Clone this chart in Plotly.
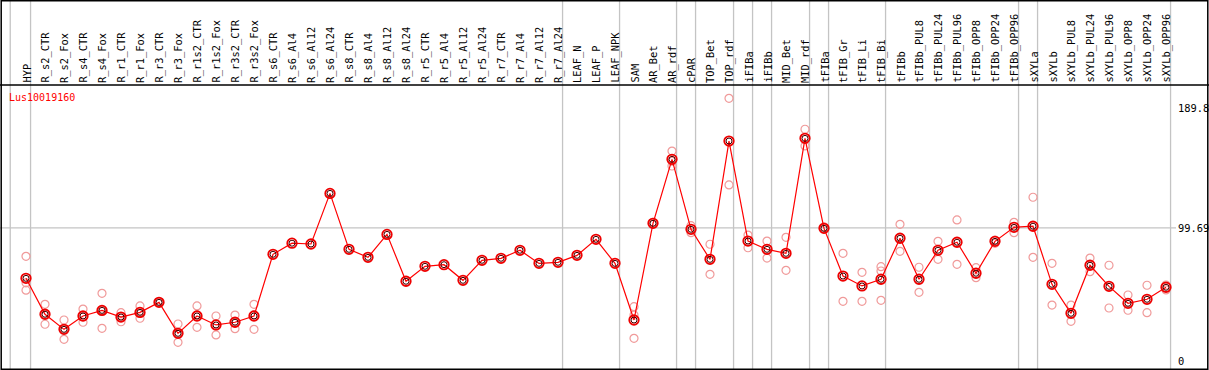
import plotly.graph_objects as go

categories = ["HYP", "R_s2_CTR", "R_s2_Fox", "R_s4_CTR", "R_s4_Fox", "R_r1_CTR", "R_r1_Fox",
              "R_r3_CTR", "R_r3_Fox", "R_r1s2_CTR", "R_r1s2_Fox", "R_r3s2_CTR", "R_r3s2_Fox",
              "R_s6_CTR", "R_s6_Al4", "R_s6_Al12", "R_s6_Al24", "R_s8_CTR", "R_s8_Al4", "R_s8_Al12",
              "R_s8_Al24", "R_r5_CTR", "R_r5_Al4", "R_r5_Al12", "R_r5_Al24", "R_r7_CTR", "R_r7_Al4",
              "R_r7_Al12", "R_r7_Al24", "LEAF_N", "LEAF_P", "LEAF_NPK", "SAM", "AR_Bet", "AR_rdf",
              "cPAR", "TOP_Bet", "TOP_rdf", "iFIBa", "iFIBb", "MID_Bet", "MID_rdf", "tFIBa",
              "tFIB_Gr", "tFIB_Li", "tFIB_Bi", "tFIBb", "tFIBb_PUL8", "tFIBb_PUL24", "tFIBb_PUL96",
              "tFIBb_OPP8", "tFIBb_OPP24", "tFIBb_OPP96", "sXYLa", "sXYLb", "sXYLb_PUL8",
              "sXYLb_PUL24", "sXYLb_PUL96", "sXYLb_OPP8", "sXYLb_OPP24", "sXYLb_OPP96"]

means = [61.9, 35.0, 23.7, 33.7, 37.9, 32.9, 36.4, 43.9, 20.7, 33.7, 27.0, 29.0, 33.7,
         79.9, 88.2, 87.6, 125.5, 83.6, 77.6, 94.8, 59.7, 70.9, 72.1, 60.4, 75.4, 76.9, 82.9,
         73.1, 73.9, 79.1, 91.1, 73.1, 30.7, 103.1, 151.0, 98.6, 76.1, 164.7, 89.8, 83.6,
         80.6, 166.7, 99.3, 63.6, 56.2, 61.2, 91.9, 61.2, 82.9, 88.9, 65.7, 89.6, 100.1,
         100.9, 57.4, 35.7, 71.7, 55.9, 43.2, 46.2, 55.2]

N = None
rep1 = [78.4, 42.4, 30.7, 38.9, 50.7, 36.2, 41.2, 44.3, 27.7, 41.2, 33.7, 34.4, 42.4,
        N, N, N, N, N, N, N, N, N, N, N, N, N, N, N, N, N, N, N,
        40.7, 103.8, 157.2, 101.3, 87.4, 196.7, 94.3, 89.8, 92.6, 173.5, 100.5,
        80.6, 66.4, 70.6, 102.3, 70.2, 89.6, 105.6, 69.9, 88.1, 103.8,
        122.6, 73.1, 41.9, 77.1, 71.7, 49.4, 56.7, 56.9]
rep2 = [58.5, 35.0, 23.7, 33.2, 37.9, 33.0, 36.0, 43.6, 20.5, 34.5, 27.5, 28.5, 34.5,
        N, N, N, N, N, N, N, N, N, N, N, N, N, N, N, N, N, N, N,
        34.4, 102.5, 149.5, 96.1, 64.9, 131.8, 84.8, 77.1, 67.9, 161.0, 99.0,
        44.7, 44.7, 67.4, 82.1, 51.4, 76.1, 72.4, 62.4, 90.5, 96.1,
        77.6, 41.9, 29.7, 66.9, 39.7, 38.0, 36.2, 53.2]
rep3 = [53.0, 27.5, 16.2, 29.0, 24.5, 29.4, 32.0, N, 14.0, 25.2, 19.5, 24.2, 23.7,
        N, N, N, N, N, N, N, N, N, N, N, N, N, N, N, N, N, N, N,
        17.0, N, 146.0, N, N, N, N, N, N, N, N,
        N, N, 45.4, N, N, N, N, N, N, N,
        N, N, N, N, N, N, N, N]

group_sizes = [1, 28, 3, 3, 1, 2, 1, 1, 2, 1, 3, 7, 1, 7]
tick_values = [189.8, 99.69, 0]
tick_labels = ["189.8", "99.69", "0"]
gene_id = "Lus10019160"

W, H = 1209, 370
X0_PX, STEP_PX = 26.0, 19.0
Y0_PX, PX_PER_UNIT = 361.0, 1.3356
HEADER_PX = 85

x_range = [(0 - X0_PX) / STEP_PX, (W - X0_PX) / STEP_PX]
y_range = [(Y0_PX - H) / PX_PER_UNIT, Y0_PX / PX_PER_UNIT]

xs = list(range(len(categories)))
FONT = "DejaVu Sans Mono"

fig = go.Figure()

rep_x, rep_y = [], []
for rep in (rep1, rep2, rep3):
    for i, v in enumerate(rep):
        if v is not None:
            rep_x.append(i)
            rep_y.append(v)

fig.add_trace(go.Scatter(x=rep_x, y=rep_y, mode="markers", cliponaxis=False,
                         marker=dict(symbol="circle-open", size=8, color="#f09a9a",
                                     line=dict(width=1.2, color="#f09a9a")),
                         hoverinfo="skip", showlegend=False))
fig.add_trace(go.Scatter(x=xs, y=means, mode="lines", line=dict(color="#ff0000", width=1.2),
                         hoverinfo="skip", showlegend=False))
fig.add_trace(go.Scatter(x=xs, y=means, mode="markers",
                         marker=dict(symbol="circle-open", size=9.5, color="#ee0000",
                                     line=dict(width=1.8, color="#ee0000")),
                         hoverinfo="skip", showlegend=False))
fig.add_trace(go.Scatter(x=xs, y=means, mode="markers",
                         marker=dict(symbol="circle-open", size=6, color="#400000",
                                     line=dict(width=1, color="#400000")),
                         hoverinfo="skip", showlegend=False))

shapes = []
grid = "#c4c4c4"
# vertical group separators
bounds = [-0.83]
end = -1
for s in group_sizes:
    end += s
    bounds.append(end + 0.24)
for b in bounds:
    shapes.append(dict(type="line", xref="x", yref="paper", x0=b, x1=b, y0=0, y1=1,
                       line=dict(color=grid, width=1.3), layer="below"))
# horizontal grid at middle tick
shapes.append(dict(type="line", xref="paper", yref="y", x0=0, x1=1176 / W,
                   y0=tick_values[1], y1=tick_values[1],
                   line=dict(color=grid, width=1.3), layer="below"))
# header separator
shapes.append(dict(type="line", xref="paper", yref="paper", x0=0, x1=1,
                   y0=1 - HEADER_PX / H, y1=1 - HEADER_PX / H,
                   line=dict(color="black", width=1.5)))
# frame
shapes.append(dict(type="rect", xref="paper", yref="paper", x0=0.001, x1=0.999, y0=0.002, y1=0.998,
                   line=dict(color="black", width=1.5)))

annotations = []
for i, c in enumerate(categories):
    annotations.append(dict(x=i, y=1 - (HEADER_PX - 1) / H, xref="x", yref="paper",
                            text=c, textangle=-90, showarrow=False,
                            xanchor="center", yanchor="bottom", borderpad=0,
                            font=dict(family=FONT, size=10.4, color="black")))
for v, t in zip(tick_values, tick_labels):
    annotations.append(dict(x=1177 / W, y=v, xref="paper", yref="y", text=t,
                            showarrow=False, xanchor="left", yanchor="middle", borderpad=0,
                            font=dict(family=FONT, size=10.4, color="black")))
annotations.append(dict(x=8 / W, y=1 - 97.5 / H, xref="paper", yref="paper", text=gene_id,
                        showarrow=False, xanchor="left", yanchor="middle", borderpad=0,
                        font=dict(family=FONT, size=10, color="#ff0000")))

fig.update_layout(width=W, height=H, margin=dict(l=0, r=0, t=0, b=0),
                  paper_bgcolor="white", plot_bgcolor="white",
                  xaxis=dict(range=x_range, visible=False, fixedrange=True),
                  yaxis=dict(range=y_range, visible=False, fixedrange=True),
                  shapes=shapes, annotations=annotations, showlegend=False)

fig.write_html("out.html", config={"displayModeBar": False},
               post_script="document.body.style.margin='0';document.body.style.overflow='hidden';")
